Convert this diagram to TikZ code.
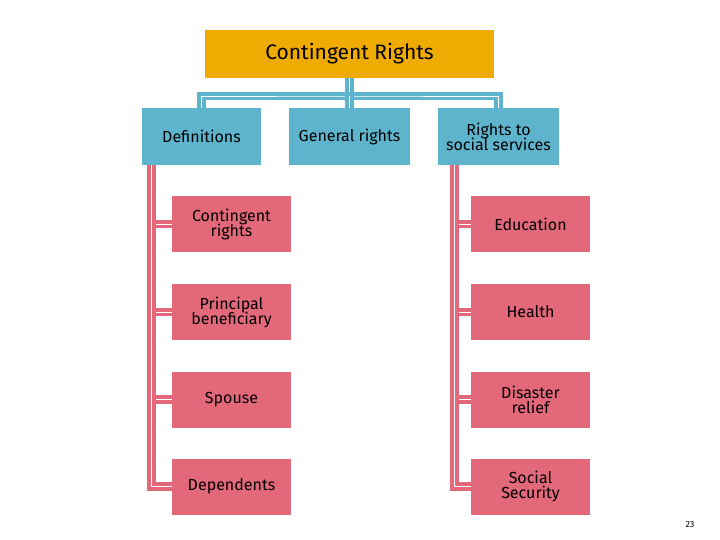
\documentclass[tikz,border=0pt]{standalone}
\usepackage{fontspec}
\setmainfont{Fira Sans}
\usetikzlibrary{calc}
\begin{document}
\begin{tikzpicture}[x=1pt,y=-1pt,
  box/.style={inner sep=0pt,align=center,text=black,font=\fontsize{16}{18}\selectfont},
  blu/.style={box,fill=blu},
  pnk/.style={box,fill=pnk},
  con/.style={draw=#1,line width=4pt,double=white,double distance=0.8pt}]
\definecolor{org}{HTML}{F0AB00}
\definecolor{blu}{HTML}{5DB4CC}
\definecolor{pnk}{HTML}{E3687A}
\useasboundingbox (0,0) rectangle (720,540);
\node[box,fill=org,minimum width=289pt,minimum height=48pt,font=\fontsize{21}{24}\selectfont] (top) at (349.5,54) {Contingent Rights};
\node[blu,minimum width=119pt,minimum height=57pt] (def) at (201.5,136.5) {Definitions};
\node[blu,minimum width=121pt,minimum height=57pt] (gen) at (349.5,136.5) {General rights};
\node[blu,minimum width=121pt,minimum height=57pt] (soc) at (498.5,136.5) {Rights to\\[-3pt]social services};
\coordinate (bus) at (349.5,96);
\draw[con=blu] (top.south) -- (bus);
\draw[con=blu] (def.north) |- (bus) -| (soc.north);
\draw[con=blu] (bus) -- (gen.north);
\foreach \n/\t/\y in {l1/Contingent\\[-3pt]rights/224, l2/Principal\\[-3pt]beneficiary/312, l3/Spouse/399.5, l4/Dependents/486.5}{
  \node[pnk,minimum width=119pt,minimum height=56pt] (\n) at (231.5,\y) {\t};
  \draw[con=pnk] ($(def.south west)+(10,0)$) |- (\n.west);
}
\foreach \n/\t/\y in {r1/Education/224, r2/Health/312, r3/Disaster\\[-3pt]relief/399.5, r4/Social\\[-3pt]Security/486.5}{
  \node[pnk,minimum width=119pt,minimum height=56pt] (\n) at (530.5,\y) {\t};
  \draw[con=pnk] ($(soc.south west)+(17,0)$) |- (\n.west);
}
\node[font=\fontsize{9}{10}\selectfont] (pg) at (690,524) {23};
\end{tikzpicture}
\end{document}
